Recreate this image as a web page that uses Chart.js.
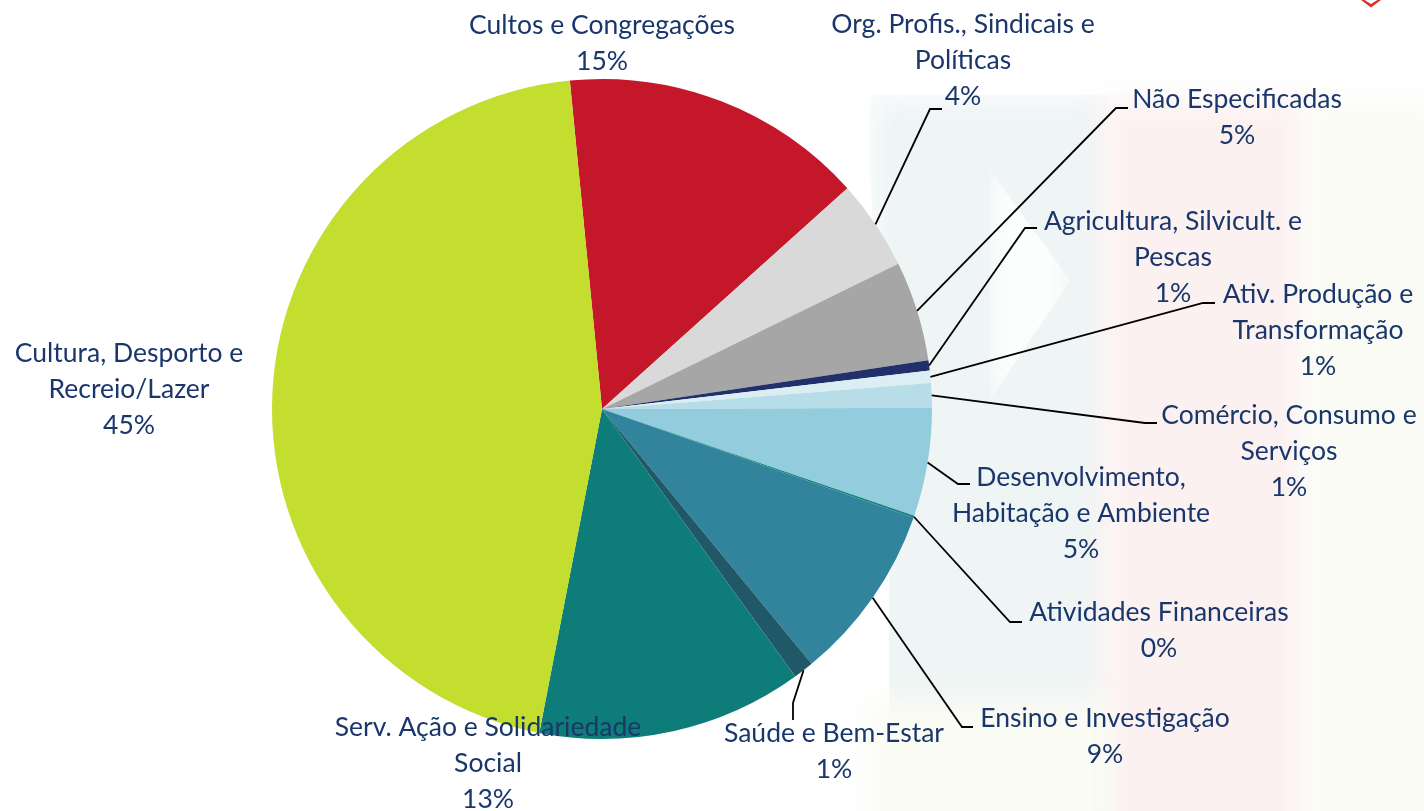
<!DOCTYPE html>
<html>
<head>
<meta charset="utf-8">
<script src="https://cdn.jsdelivr.net/npm/chart.js"></script>
<style>
  html, body { margin: 0; padding: 0; background: #ffffff; }
  #wrap { position: relative; width: 1424px; height: 811px; overflow: hidden; background: #ffffff; }
  .bg { position: absolute; filter: blur(14px); }
  #chart { position: absolute; left: 0; top: 0; }
</style>
</head>
<body>
<div id="wrap">
  <!-- faint slide background -->
  <div class="bg" style="left:870px; top:95px; width:240px; height:740px; background:#eff5f5;
       clip-path: polygon(0 0, 100% 0, 100% 100%, 8% 100%, 8% 60%, 0 10%);"></div>
  <div class="bg" style="left:1100px; top:100px; width:205px; height:740px; background:#fcf1f1;"></div>
  <div class="bg" style="left:1305px; top:100px; width:140px; height:740px; background:#fafbf4;"></div>
  <div class="bg" style="left:990px; top:170px; width:80px; height:230px; background:#fcfdfd;
       clip-path: polygon(0 0, 100% 48%, 0 100%);"></div>
  <div class="bg" style="left:870px; top:700px; width:240px; height:140px; background:#fafbf3;"></div>
  <div style="position:absolute; left:1361px; top:0; width:20px; height:10px;
       clip-path: polygon(0 0, 18% 0, 50% 40%, 82% 0, 100% 0, 50% 75%); background:#d9342b;"></div>
  <canvas id="chart" width="1424" height="811"></canvas>
</div>
<script>
// category names (line breaks as in the original labels)
const categories = [
  "Cultos e Congregações",
  "Org. Profis., Sindicais e\nPolíticas",
  "Não Especificadas",
  "Agricultura, Silvicult. e\nPescas",
  "Ativ. Produção e\nTransformação",
  "Comércio, Consumo e\nServiços",
  "Desenvolvimento,\nHabitação e Ambiente",
  "Atividades Financeiras",
  "Ensino e Investigação",
  "Saúde e Bem-Estar",
  "Serv. Ação e Solidariedade\nSocial",
  "Cultura, Desporto e\nRecreio/Lazer"
];

// share of each category, %
const shares = [14.9, 4.4, 4.9, 0.5, 0.6, 1.2, 5.3, 0.1, 8.7, 1.0, 13.0, 45.4];

const sliceColors = [
  "#c4182a", "#d9d9d9", "#a6a6a6", "#21306a", "#dbeef3", "#b7dde8",
  "#93cddd", "#13837c", "#31849b", "#215868", "#0e7d79", "#c3de2e"
];

// label placement: text centre x, first line y, optional leader elbow and end
const labelLayout = [
  { x: 602,  y: 25 },
  { x: 963,  y: 24,  elbow: [930, 109], end: [942, 109] },
  { x: 1237, y: 99,  elbow: [1116, 108], end: [1128, 108] },
  { x: 1173, y: 221, elbow: [1025, 228], end: [1037, 228] },
  { x: 1318, y: 294, elbow: [1203, 303], end: [1215, 303] },
  { x: 1289, y: 415, elbow: [1145, 423], end: [1157, 423] },
  { x: 1081, y: 477, elbow: [958, 484], end: [970, 484] },
  { x: 1159, y: 612, elbow: [1010, 622], end: [1022, 622] },
  { x: 1105, y: 718, elbow: [962, 727], end: [973, 727] },
  { x: 834,  y: 733, elbow: [793, 703], end: [793, 720] },
  { x: 488,  y: 727 },
  { x: 129,  y: 353 }
];

const labelFont = "26.5px Lato";
const labelColor = "#1a376c";
const lineHeight = 36;

const pieLabels = {
  id: "pieLabels",
  afterDraw(chart) {
    const ctx = chart.ctx;
    const arcs = chart.getDatasetMeta(0).data;
    ctx.save();
    arcs.forEach((arc, i) => {
      const p = arc.getProps(["x", "y", "startAngle", "endAngle", "outerRadius"], true);
      const lay = labelLayout[i];
      if (lay.elbow) {
        const mid = (p.startAngle + p.endAngle) / 2;
        const ax = p.x + p.outerRadius * Math.cos(mid);
        const ay = p.y + p.outerRadius * Math.sin(mid);
        ctx.beginPath();
        ctx.moveTo(ax, ay);
        ctx.lineTo(lay.elbow[0], lay.elbow[1]);
        ctx.lineTo(lay.end[0], lay.end[1]);
        ctx.strokeStyle = "#000000";
        ctx.lineWidth = 1.8;
        ctx.stroke();
      }
      const lines = categories[i].split("\n");
      lines.push(Math.round(shares[i]) + "%");
      ctx.font = labelFont;
      ctx.fillStyle = labelColor;
      ctx.textAlign = "center";
      ctx.textBaseline = "middle";
      lines.forEach((t, k) => ctx.fillText(t, lay.x, lay.y + k * lineHeight));
    });
    ctx.restore();
  }
};

new Chart(document.getElementById("chart"), {
  type: "pie",
  data: {
    labels: categories,
    datasets: [{
      data: shares,
      backgroundColor: sliceColors,
      borderWidth: 0
    }]
  },
  options: {
    responsive: false,
    animation: false,
    rotation: -5.6,
    layout: { padding: { left: 272, right: 492, top: 79, bottom: 72 } },
    plugins: {
      legend: { display: false },
      tooltip: { enabled: false }
    }
  },
  plugins: [pieLabels]
});
</script>
</body>
</html>
